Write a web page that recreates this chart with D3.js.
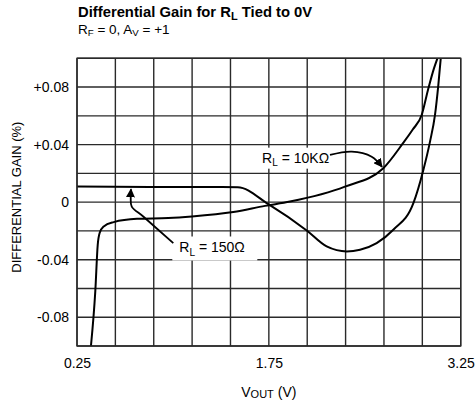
<!DOCTYPE html>
<html><head><meta charset="utf-8">
<script src="https://cdn.jsdelivr.net/npm/d3@7"></script>
<style>
body{margin:0;background:#fff;}
svg{display:block;font-family:"Liberation Sans",Arial,Helvetica,sans-serif;}
</style></head>
<body>
<svg id="c" width="475" height="403"></svg>
<script>
// ---- data ----
const xGrid = [0.25,0.55,0.85,1.15,1.45,1.75,2.05,2.35,2.65,2.95,3.25];
const yGrid = [-0.1,-0.08,-0.06,-0.04,-0.02,0,0.02,0.04,0.06,0.08,0.1];
const xTickVals = [0.25,1.75,3.25];
const xTickLabels = ["0.25","1.75","3.25"];
const yTickVals = [0.08,0.04,0,-0.04,-0.08];
const yTickLabels = ["+0.08","+0.04","0","-0.04","-0.08"];

const rl10kV   = [0.359,0.393,0.412,0.427,0.459,0.537,0.719,0.964,1.149,1.472,1.720,1.915,2.345,2.645,2.799,2.875,2.945,2.997,3.041,3.068];
const rl10kG   = [-0.100,-0.062,-0.0297,-0.0215,-0.0169,-0.0139,-0.0116,-0.0111,-0.0100,-0.0069,-0.0026,0.0004,0.0108,0.0236,0.041,0.0505,0.0606,0.079,0.093,0.100];

const rl150V   = [0.25,0.821,1.507,1.746,2.046,2.202,2.359,2.463,2.593,2.723,2.880,2.958,3.010,3.049,3.075,3.094];
const rl150G   = [0.0108,0.0106,0.0104,-0.0014,-0.0197,-0.0308,-0.0343,-0.0331,-0.0285,-0.0192,-0.0007,0.0224,0.0421,0.0606,0.0814,0.0999];

// annotation arrows (data units)
const arrow10kV = [2.228,2.398,2.554,2.635];
const arrow10kG = [0.0328,0.0351,0.0316,0.0245];
const arrow150V = [1.003,0.768,0.678,0.670,0.672];
const arrow150G = [-0.0285,-0.0100,-0.0031,0.0028,0.0090];

// ---- layout ----
const svg = d3.select("#c");
const L=77, R=460.7, T=58.3, B=346;
const x = d3.scaleLinear().domain([0.25,3.25]).range([L,R]);
const y = d3.scaleLinear().domain([-0.1,0.1]).range([B,T]);
const gridColor="#2a2a2a";

// grid
svg.append("g").selectAll("line.v").data(xGrid).join("line")
  .attr("x1",d=>x(d)).attr("x2",d=>x(d)).attr("y1",T).attr("y2",B)
  .attr("stroke",gridColor).attr("stroke-width",1.4);
svg.append("g").selectAll("line.h").data(yGrid).join("line")
  .attr("y1",d=>y(d)).attr("y2",d=>y(d)).attr("x1",L).attr("x2",R)
  .attr("stroke",gridColor).attr("stroke-width",1.4);

// axes labels via d3 axes
const xa = svg.append("g").attr("transform",`translate(0,${B})`)
  .call(d3.axisBottom(x).tickValues(xTickVals).tickSize(0).tickPadding(12)
    .tickFormat((d,i)=>xTickLabels[i]));
xa.select(".domain").remove();
xa.selectAll("text").attr("font-size",14).attr("fill","#000").attr("font-family","Liberation Sans,Arial,sans-serif");

const ya = svg.append("g").attr("transform",`translate(${L},0)`)
  .call(d3.axisLeft(y).tickValues(yTickVals).tickSize(0).tickPadding(8)
    .tickFormat((d,i)=>yTickLabels[i]));
ya.select(".domain").remove();
ya.selectAll("text").attr("font-size",14).attr("fill","#000").attr("font-family","Liberation Sans,Arial,sans-serif");

// curves
const line = (vs,gs)=>d3.line().x(i=>x(vs[i])).y(i=>y(gs[i])).curve(d3.curveMonotoneX)(d3.range(vs.length));
svg.append("clipPath").attr("id","clip").append("rect").attr("x",L).attr("y",T).attr("width",R-L).attr("height",B-T);
const cg = svg.append("g").attr("clip-path","url(#clip)");
cg.append("path").attr("d",line(rl10kV,rl10kG)).attr("fill","none").attr("stroke","#000").attr("stroke-width",2);
cg.append("path").attr("d",line(rl150V,rl150G)).attr("fill","none").attr("stroke","#000").attr("stroke-width",2);

// border
svg.append("rect").attr("x",L).attr("y",T).attr("width",R-L).attr("height",B-T)
  .attr("fill","none").attr("stroke",gridColor).attr("stroke-width",1.4);

// label helper
function subLabel(g, px, py, parts, size){
  const t = g.append("text").attr("x",px).attr("y",py).attr("font-size",size).attr("fill","#000");
  parts.forEach(p=>{
    if(p.sub){ t.append("tspan").attr("font-size",size*0.72).attr("dy",size*0.22).text(p.t); }
    else if(p.after){ t.append("tspan").attr("dy",-size*0.22).text(p.t); }
    else t.append("tspan").text(p.t);
  });
  return t;
}

// annotation boxes
const ann = svg.append("g");
ann.append("rect").attr("x",x(1.697)-4).attr("y",y(0.0271)-15.5).attr("width",71).attr("height",21).attr("fill","#fff");
ann.append("rect").attr("x",x(1.050)-7).attr("y",y(-0.035)-16).attr("width",85).attr("height",24).attr("fill","#fff");
subLabel(ann, x(1.697), y(0.0271), [{t:"R"},{t:"L",sub:true},{t:" = 10KΩ",after:true}], 14);
subLabel(ann, x(1.050), y(-0.035), [{t:"R"},{t:"L",sub:true},{t:" = 150Ω",after:true}], 14);

// arrows
svg.append("defs").append("marker").attr("id","ah").attr("viewBox","0 0 10 10")
  .attr("refX",9).attr("refY",5).attr("markerWidth",5).attr("markerHeight",5).attr("orient","auto")
  .append("path").attr("d","M0,0L10,5L0,10Z").attr("fill","#000");
const aline = (vs,gs)=>d3.line().x(i=>x(vs[i])).y(i=>y(gs[i])).curve(d3.curveCatmullRom)(d3.range(vs.length));
svg.append("path").attr("d",aline(arrow10kV,arrow10kG)).attr("fill","none").attr("stroke","#000").attr("stroke-width",1.8).attr("marker-end","url(#ah)");
svg.append("path").attr("d",aline(arrow150V,arrow150G)).attr("fill","none").attr("stroke","#000").attr("stroke-width",1.8).attr("marker-end","url(#ah)");

// titles
const tt = svg.append("text").attr("x",78).attr("y",17).attr("font-size",14.8).attr("font-weight","bold").attr("fill","#000");
tt.append("tspan").text("Differential Gain for R");
tt.append("tspan").attr("font-size",11).attr("dy",3).text("L");
tt.append("tspan").attr("dy",-3).text(" Tied to 0V");

subLabel(svg, 78, 33.5, [{t:"R"},{t:"F",sub:true},{t:" = 0, A",after:true},{t:"V",sub:true},{t:" = +1",after:true}], 13.5);

const xt = svg.append("text").attr("x",x(1.75)).attr("y",396.5).attr("text-anchor","middle").attr("font-size",14).attr("fill","#000");
xt.append("tspan").text("V");
xt.append("tspan").attr("font-size",11).attr("dy",1).text("OUT");
xt.append("tspan").attr("dy",-1).text(" (V)");

svg.append("text").attr("transform",`translate(20.5,${(T+B)/2-5}) rotate(-90)`).attr("text-anchor","middle")
  .attr("font-size",13).attr("fill","#000").text("DIFFERENTIAL GAIN (%)");
</script>
</body></html>
